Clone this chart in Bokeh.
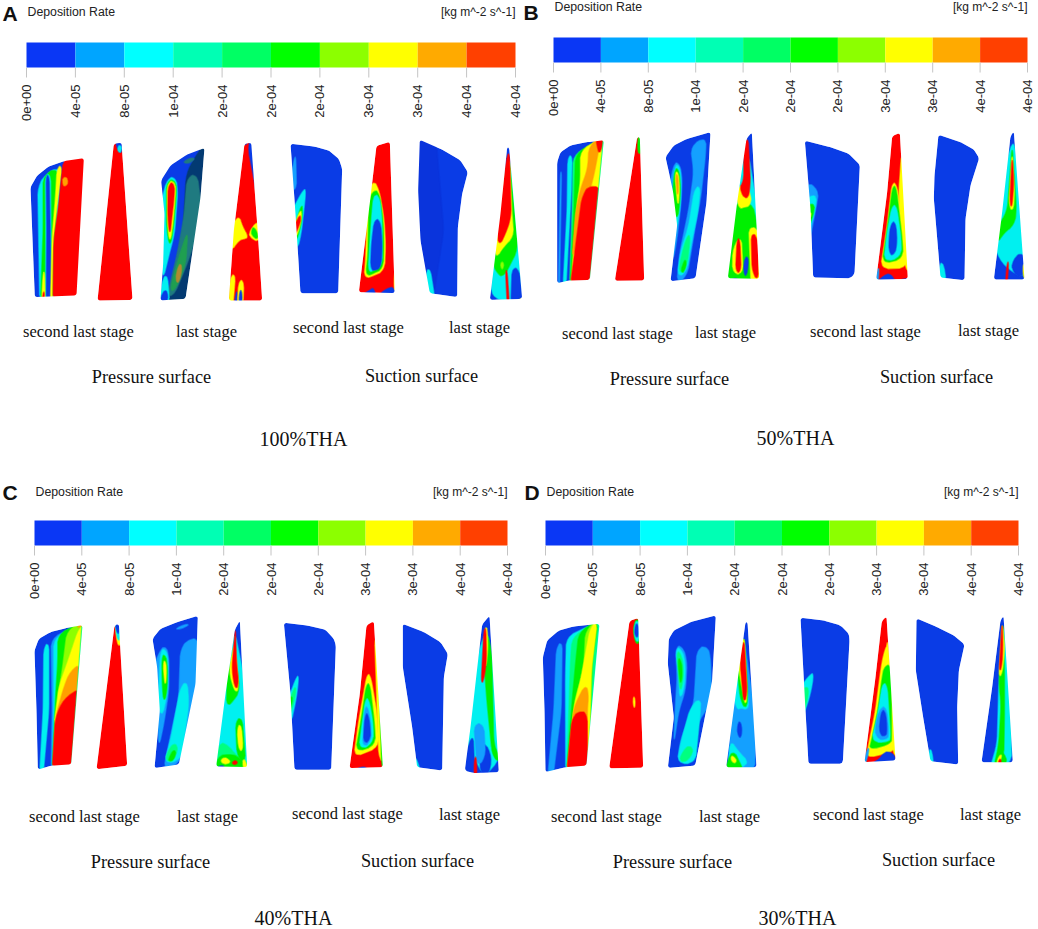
from math import hypot, pi

from bokeh.core.properties import value
from bokeh.embed import file_html
from bokeh.models import Range1d
from bokeh.plotting import figure
from bokeh.resources import INLINE

# contour levels
bar_colors = ["#0a37f5", "#00a5ff", "#00ffff", "#00ffb4", "#00ff64", "#00ff00",
              "#8cff00", "#ffff00", "#ffaa00", "#ff4000"]
tick_labels = ["0e+00", "4e-05", "8e-05", "1e-04", "2e-04", "2e-04", "2e-04", "3e-04", "3e-04", "4e-04", "4e-04"]
band = {"B": "#0a3ce6", "B2": "#0a34dc", "D": "#033a72", "K": "#1f7a80", "E": "#1f9f50", "F": "#b08a30",
        "L": "#14a0ff", "C": "#00f0f0", "T": "#00ffb4", "M": "#00ff80", "G": "#00f000", "N": "#8cff00",
        "Y": "#ffff00", "O": "#ffa000", "H": "#ff4000", "R": "#ff0000"}

# colourbars
bar_left = [26, 553, 34, 545]
bar_right = [515, 1027, 507, 1018]
bar_top = [42, 37, 520, 520]
bar_bottom = [67, 62, 545, 545]
title_y = [11, 6, 491, 491]
letter_names = ["A", "B", "C", "D"]
letter_x = [2, 523, 2, 524]
letter_y = [13, 12, 492, 492]

# text under the blades
stage_names = ["second last stage", "last stage", "second last stage", "last stage"] * 4
stage_x = [78, 206, 348, 479, 617, 725, 865, 988, 84, 207, 347, 469, 606, 729, 868, 990]
stage_y = [331, 331, 327, 327, 333, 332, 331, 330, 816, 816, 813, 814, 816, 816, 814, 814]
surface_names = ["Pressure surface", "Suction surface"] * 4
surface_x = [151, 421, 669, 936, 150, 417, 672, 938]
surface_y = [376, 375, 378, 376, 861, 860, 861, 859]
case_names = ["100%THA", "50%THA", "40%THA", "30%THA"]
case_x = [303, 795, 293, 797]
case_y = [438, 437, 917, 917]

# blade contours at 3x from a crop origin
crop_a12 = (0, 130)
crop_a34 = (270, 130)
crop_b12 = (530, 125)
crop_b34 = (790, 125)
crop_c12 = (20, 610)
crop_c34 = (270, 610)
crop_d12 = (530, 610)
crop_d34 = (780, 610)

a1_outline = [(90, 170), (110, 135), (145, 108), (190, 92), (250, 83), (228, 495), (103, 500), (97, 350)]
a1_bands = [("C", [(112, 170), (135, 130), (180, 108), (170, 300), (157, 497), (120, 497)]),
            ("G", [(128, 135), (172, 110), (165, 300), (156, 497), (122, 497), (128, 300)]),
            ("C", [(134, 135), (150, 130), (152, 350), (152, 497), (136, 497), (136, 300)]),
            ("B", [(138, 497), (152, 497), (150, 350), (146, 135), (137, 135), (139, 300)]),
            ("Y", [(170, 110), (185, 105), (170, 220), (158, 330), (155, 497), (150, 497), (155, 320), (165, 200)]),
            ("R", [(185, 100), (250, 83), (230, 497), (157, 497), (160, 330), (175, 220)]),
            ("O", [(190, 135), (205, 150), (195, 170), (185, 160)]),
            ("Y", [(125, 497), (135, 497), (132, 420), (128, 430)]),
            ("R", [(126, 497), (133, 497), (131, 470)])]
a2_outline = [(340, 40), (363, 36), (396, 508), (291, 510)]
a2_bands = [("B", [(342, 40), (363, 37), (365, 78), (355, 70)]),
            ("C", [(350, 50), (360, 60), (362, 80), (355, 68)]),
            ("B", [(330, 505), (396, 506), (396, 511), (320, 511)])]
a3_outline = [(482, 150), (510, 105), (560, 72), (612, 52), (600, 200), (575, 370), (555, 505), (480, 510), (488, 400), (492, 250)]
a3_bands = [("B", [(482, 150), (510, 105), (560, 72), (605, 52), (575, 90), (555, 130), (545, 300), (510, 470), (500, 510), (480, 510), (488, 400)]),
            ("K", [(560, 140), (590, 130), (588, 260), (560, 400), (520, 495), (500, 495), (530, 370), (550, 260)]),
            ("E", [(538, 370), (562, 300), (556, 400), (522, 482), (508, 478)]),
            ("F", [(530, 410), (545, 395), (540, 450), (525, 460)]),
            ("K", [(550, 90), (585, 78), (575, 95), (552, 100)]),
            ("C", [(500, 145), (525, 138), (532, 180), (522, 310), (505, 375), (492, 430), (492, 250)]),
            ("G", [(498, 152), (526, 146), (528, 190), (518, 300), (508, 352), (498, 290)]),
            ("Y", [(500, 156), (524, 150), (525, 190), (516, 290), (508, 340), (501, 280)]),
            ("R", [(503, 160), (522, 155), (521, 200), (513, 270), (508, 318), (502, 260)]),
            ("C", [(490, 430), (500, 430), (510, 505), (482, 505)]),
            ("B", [(484, 480), (500, 470), (505, 505), (482, 508)])]
a4_outline = [(732, 40), (752, 36), (770, 280), (785, 510), (685, 510), (700, 300)]
a4_bands = [("B", [(752, 36), (770, 280), (771, 320), (762, 200), (742, 50)]),
            ("B", [(732, 40), (742, 40), (735, 70)]),
            ("Y", [(700, 300), (715, 250), (725, 290), (745, 320), (730, 325), (712, 330), (700, 350)]),
            ("Y", [(745, 300), (765, 270), (770, 320), (750, 325)]),
            ("G", [(752, 300), (762, 285), (766, 315), (755, 318)]),
            ("Y", [(695, 420), (705, 430), (700, 510), (688, 510)]),
            ("B", [(703, 510), (712, 510), (710, 470)]),
            ("Y", [(715, 450), (730, 450), (728, 510), (712, 510)]),
            ("B", [(717, 480), (725, 480), (725, 508), (717, 508)])]
a5_outline = [(60, 40), (130, 48), (175, 60), (205, 85), (215, 115), (203, 488), (90, 488), (75, 250)]
a5_bands = [("L", [(72, 80), (76, 80), (78, 180), (74, 180)]),
            ("C", [(100, 175), (106, 180), (100, 240), (92, 310), (86, 345), (78, 300), (75, 240)]),
            ("G", [(92, 225), (97, 230), (92, 285), (82, 325), (78, 290)]),
            ("Y", [(88, 240), (94, 245), (90, 285), (81, 315), (78, 285)]),
            ("R", [(85, 255), (92, 258), (87, 285), (80, 303), (78, 285)])]
a6_outline = [(318, 46), (358, 34), (372, 470), (372, 488), (265, 485), (300, 200)]
a6_bands = [("B", [(265, 485), (300, 478), (310, 470), (318, 485), (350, 470), (372, 455), (372, 490)]),
            ("Y", [(310, 165), (325, 175), (340, 260), (345, 340), (342, 420), (310, 435), (280, 445), (285, 400), (300, 220)]),
            ("G", [(310, 175), (327, 190), (338, 270), (340, 340), (338, 415), (310, 428), (285, 438), (292, 380), (303, 230)]),
            ("C", [(310, 190), (328, 200), (335, 280), (335, 405), (310, 420), (293, 425), (298, 340), (305, 240)]),
            ("B", [(312, 265), (330, 270), (335, 340), (332, 410), (315, 420), (300, 418), (303, 340)]),
            ("K", [(335, 42), (358, 34), (358, 42)]),
            ("Y", [(365, 300), (368, 300), (372, 470), (366, 450)])]
a7_outline = [(448, 28), (520, 60), (570, 90), (592, 125), (575, 190), (562, 290), (560, 500), (478, 488), (450, 330), (443, 180)]
a7_bands = [("B2", [(445, 30), (500, 55), (520, 300), (490, 490), (478, 488), (445, 170)]),
            ("C", [(470, 410), (478, 410), (495, 488), (478, 488)])]
a8_outline = [(710, 50), (716, 52), (755, 505), (658, 508), (690, 250)]
a8_bands = [("C", [(700, 180), (718, 100), (740, 340), (750, 470), (720, 500), (665, 480), (680, 330)]),
            ("G", [(705, 150), (716, 110), (735, 340), (720, 400), (700, 440), (680, 430), (672, 380), (685, 300)]),
            ("Y", [(708, 120), (716, 100), (725, 260), (730, 320), (700, 345), (680, 370), (685, 300)]),
            ("R", [(708, 100), (716, 80), (722, 260), (705, 310), (685, 350), (692, 290)]),
            ("N", [(690, 395), (700, 395), (698, 415), (692, 415)]),
            ("B", [(660, 505), (666, 470), (685, 505)]),
            ("B", [(725, 410), (742, 400), (750, 480), (730, 505), (720, 505)]),
            ("R", [(705, 420), (710, 420), (716, 508), (710, 508)]),
            ("Y", [(725, 500), (750, 485), (755, 490), (735, 503)])]

b1_outline = [(80, 110), (90, 80), (120, 60), (170, 50), (220, 44), (178, 463), (115, 465), (80, 473)]
b1_bands = [("L", [(90, 140), (93, 140), (90, 470), (87, 470)]),
            ("C", [(112, 95), (125, 88), (122, 200), (108, 465), (100, 465), (110, 250)]),
            ("M", [(128, 90), (215, 48), (180, 460), (118, 465), (125, 250)]),
            ("G", [(135, 85), (212, 50), (180, 460), (120, 465), (130, 260)]),
            ("Y", [(150, 75), (212, 50), (180, 460), (122, 465), (140, 230), (150, 170)]),
            ("O", [(125, 400), (190, 150), (205, 50), (175, 60), (172, 130), (150, 190), (135, 260)]),
            ("R", [(120, 465), (178, 463), (200, 200), (180, 175), (155, 210)]),
            ("R", [(190, 52), (214, 48), (208, 90), (200, 65)]),
            ("M", [(212, 45), (220, 44), (178, 463), (174, 463)])]
b2_outline = [(320, 35), (328, 35), (341, 465), (253, 466)]
b2_bands = [("G", [(321, 50), (329, 50), (332, 95), (322, 90)]),
            ("B", [(320, 35), (328, 35), (329, 50), (321, 50)]),
            ("B", [(300, 462), (330, 461), (330, 466), (300, 466)])]
b3_outline = [(405, 95), (430, 60), (470, 40), (540, 20), (528, 230), (495, 458), (420, 467), (440, 300), (428, 200), (413, 130)]
b3_bands = [("L", [(480, 62), (527, 33), (525, 90), (510, 220), (495, 300), (470, 450), (440, 458), (448, 380), (475, 250), (490, 140)]),
            ("C", [(492, 190), (510, 180), (502, 260), (485, 340), (468, 440), (440, 455), (450, 380), (475, 300)]),
            ("M", [(470, 330), (480, 330), (470, 420), (445, 450), (450, 400)]),
            ("G", [(458, 410), (468, 400), (465, 435), (450, 445)]),
            ("L", [(430, 115), (445, 110), (455, 150), (452, 230), (442, 320), (430, 390), (430, 300), (432, 200)]),
            ("C", [(432, 125), (445, 115), (452, 160), (450, 240), (440, 300), (435, 250), (430, 170)]),
            ("G", [(432, 135), (443, 125), (450, 170), (448, 235), (443, 270), (437, 220)]),
            ("Y", [(433, 145), (442, 135), (447, 175), (445, 225), (442, 240), (438, 200)]),
            ("O", [(436, 150), (441, 145), (444, 180), (442, 215), (439, 190)])]
b4_outline = [(648, 40), (664, 20), (686, 460), (592, 458), (620, 230)]
b4_bands = [("C", [(640, 120), (655, 90), (672, 270), (685, 460), (592, 460), (618, 240)]),
            ("G", [(618, 240), (665, 230), (680, 320), (686, 460), (592, 460)]),
            ("Y", [(625, 215), (640, 170), (660, 200), (662, 240), (640, 245), (625, 250)]),
            ("R", [(640, 80), (652, 50), (660, 180), (650, 230), (630, 205), (640, 170)]),
            ("Y", [(655, 300), (678, 300), (685, 460), (660, 460)]),
            ("R", [(662, 320), (675, 320), (680, 450), (665, 440)]),
            ("Y", [(612, 350), (632, 330), (638, 445), (606, 445)]),
            ("R", [(620, 340), (628, 340), (632, 440), (615, 440)]),
            ("B", [(640, 400), (655, 390), (650, 450), (640, 450)]),
            ("B", [(592, 458), (620, 450), (625, 462), (592, 462)])]
b5_outline = [(43, 46), (120, 65), (175, 85), (208, 118), (192, 445), (180, 458), (68, 456), (60, 250)]
b5_bands = [("L", [(58, 180), (85, 190), (78, 240), (68, 330), (60, 310)]),
            ("C", [(60, 230), (78, 200), (75, 250), (65, 315), (58, 290)]),
            ("G", [(60, 250), (72, 225), (70, 270), (63, 300)]),
            ("Y", [(62, 265), (68, 255), (65, 285)])]
b6_outline = [(305, 32), (328, 22), (352, 460), (257, 462), (290, 200)]
b6_bands = [("Y", [(330, 100), (335, 250), (352, 430), (340, 410), (325, 200)]),
            ("Y", [(305, 172), (318, 175), (340, 340), (345, 410), (270, 430), (290, 300)]),
            ("G", [(307, 180), (317, 185), (335, 340), (338, 400), (275, 415), (290, 310)]),
            ("C", [(305, 240), (318, 240), (332, 340), (332, 395), (280, 410), (290, 320)]),
            ("B", [(302, 290), (316, 290), (320, 360), (310, 390), (296, 385), (295, 340)]),
            ("B", [(257, 462), (280, 447), (305, 445), (312, 455), (350, 435), (352, 462)]),
            ("K", [(310, 30), (328, 22), (330, 35)]),
            ("L", [(257, 462), (262, 430), (270, 400), (266, 460)])]
b7_outline = [(444, 28), (510, 50), (550, 72), (566, 98), (540, 180), (525, 280), (522, 464), (450, 456), (430, 220), (432, 150)]
b7_bands = [("C", [(450, 400), (458, 410), (470, 456), (452, 456)])]
b8_outline = [(660, 32), (670, 18), (702, 462), (610, 462), (635, 260)]
b8_bands = [("C", [(650, 120), (668, 60), (680, 250), (690, 350), (700, 440), (665, 440), (625, 400), (620, 340)]),
            ("G", [(650, 260), (665, 60), (678, 250), (672, 300), (640, 320), (625, 340), (635, 280)]),
            ("Y", [(655, 240), (665, 80), (672, 200), (668, 260)]),
            ("R", [(658, 230), (665, 90), (670, 170), (664, 250)]),
            ("B", [(665, 400), (695, 360), (698, 440), (665, 445)]),
            ("Y", [(693, 400), (697, 400), (701, 440), (695, 440)]),
            ("R", [(650, 410), (655, 410), (650, 462), (645, 462)]),
            ("C", [(660, 460), (700, 445), (702, 455), (665, 462)])]

c1_outline = [(42, 120), (55, 85), (90, 65), (140, 52), (186, 44), (152, 462), (95, 465), (52, 477), (48, 300)]
c1_bands = [("C", [(70, 110), (85, 95), (85, 300), (70, 472), (60, 472), (68, 300)]),
            ("L", [(92, 85), (185, 46), (153, 462), (92, 465), (95, 300)]),
            ("C", [(100, 85), (185, 46), (153, 462), (95, 465), (100, 300)]),
            ("G", [(112, 72), (185, 46), (153, 462), (95, 465), (105, 260), (112, 150)]),
            ("N", [(140, 60), (185, 46), (170, 200), (110, 270), (125, 180)]),
            ("Y", [(150, 130), (175, 55), (182, 60), (165, 280), (100, 350), (115, 230)]),
            ("O", [(130, 230), (150, 180), (170, 170), (155, 462), (97, 465), (105, 320)]),
            ("R", [(105, 320), (130, 265), (165, 230), (152, 462), (95, 465)]),
            ("M", [(178, 46), (186, 44), (152, 462), (148, 462)]),
            ("O", [(165, 55), (180, 48), (178, 62)])]
c2_outline = [(282, 45), (295, 40), (320, 466), (228, 476)]
c2_bands = [("Y", [(283, 55), (295, 42), (300, 115), (292, 110)]),
            ("C", [(283, 52), (295, 42), (298, 105), (290, 90)]),
            ("B", [(283, 48), (295, 42), (296, 85), (289, 70)])]
c3_outline = [(396, 85), (420, 55), (470, 35), (532, 16), (525, 220), (475, 462), (402, 473), (418, 300), (410, 170)]
c3_bands = [("L", [(468, 52), (505, 38), (500, 48), (470, 58)]),
            ("L", [(480, 115), (505, 85), (525, 100), (520, 230), (500, 340), (475, 440), (430, 462), (445, 400), (475, 260)]),
            ("C", [(480, 230), (500, 210), (505, 280), (480, 430), (430, 460), (450, 390)]),
            ("M", [(440, 420), (470, 390), (470, 440), (435, 460)]),
            ("G", [(445, 440), (465, 410), (465, 445), (445, 455)]),
            ("L", [(418, 120), (435, 105), (445, 135), (445, 240), (430, 340), (415, 410), (418, 300), (415, 180)]),
            ("C", [(420, 125), (432, 112), (443, 140), (442, 240), (425, 320), (420, 270), (418, 170)]),
            ("G", [(424, 140), (433, 130), (441, 160), (440, 240), (430, 280), (425, 220)]),
            ("Y", [(428, 155), (435, 150), (438, 180), (435, 230), (431, 200)])]
c4_outline = [(643, 58), (658, 30), (680, 470), (587, 468), (615, 250)]
c4_bands = [("C", [(628, 170), (642, 80), (660, 200), (670, 340), (677, 460), (590, 465), (605, 330)]),
            ("G", [(625, 215), (642, 120), (658, 240), (640, 270), (618, 290)]),
            ("Y", [(628, 200), (642, 110), (655, 230), (645, 250)]),
            ("R", [(634, 180), (644, 65), (648, 160), (655, 220), (645, 240)]),
            ("M", [(600, 380), (620, 400), (650, 440), (677, 430), (677, 465), (590, 465)]),
            ("G", [(595, 420), (625, 430), (660, 440), (677, 460), (590, 460)]),
            ("G", [(645, 330), (665, 320), (672, 440), (650, 440)]),
            ("Y", [(650, 350), (662, 340), (668, 420), (655, 420)]),
            ("Y", [(605, 440), (625, 445), (630, 460), (600, 460)]),
            ("R", [(636, 452), (650, 450), (650, 462), (636, 462)]),
            ("B", [(587, 460), (610, 458), (615, 468), (587, 468)]),
            ("Y", [(665, 440), (675, 440), (678, 468), (668, 468)])]
c5_outline = [(40, 37), (110, 45), (165, 58), (190, 85), (196, 105), (182, 478), (72, 478), (60, 250)]
c5_bands = [("C", [(78, 200), (85, 195), (78, 260), (68, 325), (58, 270)]),
            ("M", [(68, 240), (78, 225), (72, 270), (63, 310), (58, 280)]),
            ("G", [(60, 260), (70, 250), (65, 295)])]
c6_outline = [(288, 45), (310, 32), (337, 470), (237, 473), (268, 250)]
c6_bands = [("Y", [(310, 100), (318, 110), (335, 440), (325, 440)]),
            ("G", [(316, 200), (328, 300), (335, 450), (330, 450)]),
            ("Y", [(290, 190), (300, 195), (318, 300), (325, 410), (250, 440), (265, 330)]),
            ("G", [(288, 220), (298, 220), (312, 340), (315, 405), (255, 425), (270, 340)]),
            ("C", [(285, 265), (295, 265), (308, 340), (308, 400), (265, 418), (275, 340)]),
            ("L", [(283, 290), (293, 290), (302, 350), (302, 395), (275, 410), (280, 350)]),
            ("B", [(285, 310), (293, 310), (300, 360), (298, 390), (280, 400), (280, 360)]),
            ("B", [(237, 473), (285, 462), (292, 470), (330, 455), (337, 470), (337, 475), (237, 475)]),
            ("K", [(295, 44), (310, 32), (312, 45)])]
c7_outline = [(397, 40), (460, 65), (510, 95), (532, 130), (520, 200), (515, 480), (440, 470), (425, 350), (397, 170)]
c7_bands = [("C", [(435, 425), (442, 430), (452, 470), (440, 470)]),
            ("C", [(420, 48), (480, 75), (480, 78), (420, 52)])]
c8_outline = [(635, 42), (657, 16), (685, 485), (610, 488), (583, 480), (600, 350)]
c8_bands = [("C", [(630, 120), (650, 60), (665, 220), (680, 430), (640, 480), (610, 440), (595, 380), (610, 310)]),
            ("G", [(640, 150), (648, 60), (660, 140), (670, 400), (682, 440), (665, 430), (650, 280)]),
            ("Y", [(642, 60), (650, 45), (652, 120), (645, 180)]),
            ("R", [(632, 220), (640, 60), (646, 50), (648, 150), (640, 210)]),
            ("B", [(595, 400), (608, 370), (612, 470), (590, 475)]),
            ("B", [(640, 390), (665, 440), (650, 482), (625, 480)]),
            ("L", [(610, 340), (640, 340), (645, 440), (620, 470)]),
            ("R", [(612, 440), (618, 440), (620, 485), (612, 485)]),
            ("G", [(665, 400), (680, 420), (680, 440), (665, 435)])]

d1_outline = [(37, 140), (50, 90), (85, 60), (130, 48), (207, 40), (168, 465), (105, 470), (45, 485), (42, 300)]
d1_bands = [("L", [(78, 110), (95, 92), (92, 300), (70, 478), (55, 480), (70, 300)]),
            ("C", [(108, 80), (207, 42), (168, 465), (105, 470), (105, 200)]),
            ("M", [(125, 80), (200, 45), (168, 465), (108, 470), (115, 300), (120, 150)]),
            ("G", [(145, 65), (195, 45), (185, 150), (168, 465), (108, 470), (125, 270), (135, 160)]),
            ("N", [(165, 60), (190, 48), (185, 150), (168, 465), (108, 470), (135, 260), (160, 180)]),
            ("Y", [(180, 50), (192, 48), (182, 180), (168, 465), (110, 470), (130, 290), (150, 210)]),
            ("O", [(130, 290), (165, 220), (175, 250), (170, 300), (168, 465), (108, 470)]),
            ("R", [(125, 320), (150, 300), (170, 310), (165, 465), (108, 470)]),
            ("C", [(200, 42), (207, 40), (168, 465), (163, 465)])]
d2_outline = [(297, 32), (323, 22), (338, 472), (236, 473)]
d2_bands = [("B", [(297, 32), (323, 22), (324, 32), (298, 38)]),
            ("G", [(306, 45), (323, 35), (326, 108), (316, 106)]),
            ("C", [(308, 48), (322, 40), (325, 100), (317, 100)]),
            ("B", [(311, 52), (320, 50), (323, 90), (316, 85)]),
            ("Y", [(308, 260), (313, 260), (314, 290), (309, 290)])]
d3_outline = [(415, 85), (430, 60), (480, 35), (556, 15), (545, 210), (494, 465), (412, 472), (430, 320), (412, 160)]
d3_bands = [("L", [(500, 115), (530, 105), (540, 140), (530, 260), (500, 340), (480, 430), (440, 460), (450, 390), (490, 280)]),
            ("C", [(480, 290), (510, 260), (510, 300), (492, 440), (440, 460), (450, 400)]),
            ("M", [(455, 420), (485, 400), (487, 440), (445, 462)]),
            ("L", [(435, 110), (455, 105), (470, 150), (465, 240), (445, 300), (430, 400), (435, 280), (440, 200)]),
            ("C", [(435, 115), (452, 112), (465, 155), (462, 230), (448, 270), (445, 190)]),
            ("M", [(438, 125), (450, 125), (460, 170), (455, 230), (448, 240)]),
            ("G", [(442, 145), (450, 145), (456, 180), (452, 220), (448, 210)])]
d4_outline = [(645, 35), (651, 35), (678, 470), (587, 470), (620, 220)]
d4_bands = [("L", [(625, 200), (640, 100), (660, 280), (670, 400), (670, 465), (595, 465), (602, 380)]),
            ("C", [(620, 240), (640, 100), (652, 260), (655, 300), (630, 290), (620, 300)]),
            ("G", [(625, 200), (640, 90), (652, 250), (648, 300), (630, 270)]),
            ("Y", [(627, 190), (640, 90), (650, 250), (645, 290)]),
            ("R", [(630, 170), (640, 100), (650, 250), (640, 280)]),
            ("C", [(605, 370), (620, 420), (660, 460), (595, 465)]),
            ("G", [(597, 425), (610, 420), (625, 450), (640, 465), (590, 465)]),
            ("Y", [(600, 435), (612, 440), (620, 455), (605, 458)]),
            ("B", [(620, 340), (632, 330), (635, 380), (622, 380)])]
d5_outline = [(60, 22), (130, 30), (180, 45), (205, 70), (207, 90), (187, 455), (180, 460), (84, 460), (75, 300)]
d5_bands = [("C", [(90, 190), (100, 190), (90, 250), (78, 305), (72, 260), (75, 230)]),
            ("M", [(75, 240), (85, 220), (82, 270), (78, 295)])]
d6_outline = [(304, 32), (318, 18), (345, 450), (252, 455), (285, 200)]
d6_bands = [("Y", [(318, 100), (345, 430), (335, 415), (315, 170)]),
            ("Y", [(312, 120), (319, 120), (335, 380), (338, 405), (262, 425), (266, 395), (285, 300), (302, 170)]),
            ("G", [(312, 165), (325, 180), (333, 380), (332, 400), (266, 418), (272, 395), (292, 300), (305, 200)]),
            ("C", [(307, 215), (320, 225), (330, 380), (325, 395), (272, 395), (290, 320)]),
            ("L", [(300, 290), (318, 290), (325, 370), (320, 388), (285, 385), (285, 340)]),
            ("B", [(302, 300), (315, 300), (320, 360), (315, 380), (295, 370)]),
            ("B", [(252, 455), (300, 445), (305, 430), (330, 420), (345, 430), (345, 452)]),
            ("K", [(304, 32), (318, 18), (319, 30)]),
            ("L", [(252, 452), (262, 400), (268, 410), (260, 440)])]
d7_outline = [(408, 24), (470, 50), (520, 75), (552, 102), (535, 180), (530, 290), (533, 462), (450, 452), (428, 320), (406, 180)]
d7_bands = [("C", [(447, 410), (452, 410), (462, 452), (450, 452)])]
d8_outline = [(660, 30), (669, 16), (697, 455), (603, 455), (635, 230)]
d8_bands = [("C", [(655, 220), (668, 60), (680, 280), (690, 440), (630, 458), (650, 400)]),
            ("G", [(655, 220), (666, 50), (672, 180), (672, 300), (670, 440), (640, 458), (655, 400), (662, 280)]),
            ("Y", [(655, 200), (664, 50), (670, 130), (665, 190)]),
            ("R", [(656, 185), (664, 50), (667, 110), (664, 170)]),
            ("G", [(640, 455), (655, 425), (672, 425), (680, 450)]),
            ("Y", [(645, 450), (660, 425), (665, 445)]),
            ("R", [(650, 452), (660, 435), (662, 450)])]

blades = [
    (crop_a12, a1_outline, "B", a1_bands), (crop_a12, a2_outline, "R", a2_bands),
    (crop_a12, a3_outline, "D", a3_bands), (crop_a12, a4_outline, "R", a4_bands),
    (crop_a34, a5_outline, "B", a5_bands), (crop_a34, a6_outline, "R", a6_bands),
    (crop_a34, a7_outline, "B", a7_bands), (crop_a34, a8_outline, "B", a8_bands),
    (crop_b12, b1_outline, "B", b1_bands), (crop_b12, b2_outline, "R", b2_bands),
    (crop_b12, b3_outline, "B", b3_bands), (crop_b12, b4_outline, "B", b4_bands),
    (crop_b34, b5_outline, "B", b5_bands), (crop_b34, b6_outline, "R", b6_bands),
    (crop_b34, b7_outline, "B", b7_bands), (crop_b34, b8_outline, "B", b8_bands),
    (crop_c12, c1_outline, "B", c1_bands), (crop_c12, c2_outline, "R", c2_bands),
    (crop_c12, c3_outline, "B", c3_bands), (crop_c12, c4_outline, "B", c4_bands),
    (crop_c34, c5_outline, "B", c5_bands), (crop_c34, c6_outline, "R", c6_bands),
    (crop_c34, c7_outline, "B", c7_bands), (crop_c34, c8_outline, "B", c8_bands),
    (crop_d12, d1_outline, "B", d1_bands), (crop_d12, d2_outline, "R", d2_bands),
    (crop_d12, d3_outline, "B", d3_bands), (crop_d12, d4_outline, "B", d4_bands),
    (crop_d34, d5_outline, "B", d5_bands), (crop_d34, d6_outline, "R", d6_bands),
    (crop_d34, d7_outline, "B", d7_bands), (crop_d34, d8_outline, "B", d8_bands),
]


def edge_distance(point, outline):
    best = 1e9
    for i in range(len(outline)):
        x0, y0 = outline[i - 1]
        x1, y1 = outline[i]
        length = (x1 - x0) ** 2 + (y1 - y0) ** 2
        t = ((point[0] - x0) * (x1 - x0) + (point[1] - y0) * (y1 - y0)) / length
        t = max(0, min(1, t))
        best = min(best, hypot(point[0] - x0 - t * (x1 - x0), point[1] - y0 - t * (y1 - y0)))
    return best


def push_out(points, outline):
    # a band corner that sits on the blade edge goes past it, the mask trims it
    cx = sum(x for x, y in outline) / len(outline)
    cy = sum(y for x, y in outline) / len(outline)
    moved = []
    for x, y in points:
        if edge_distance((x, y), outline) < 7:
            d = hypot(x - cx, y - cy)
            x, y = x + (x - cx) / d * 18, y + (y - cy) / d * 18
        moved.append((x, y))
    return moved


def ring(crop, points, limit):
    xs = [crop[0] + x / 3 for x, y in points]
    ys = [crop[1] + y / 3 for x, y in points]
    # cut the corners twice so the contours do not look like straight polygons
    for _ in range(2):
        new_xs, new_ys = [], []
        for i in range(len(xs)):
            x0, y0 = xs[i - 1], ys[i - 1]
            x1, y1 = xs[i], ys[i]
            x2, y2 = xs[(i + 1) % len(xs)], ys[(i + 1) % len(xs)]
            d0 = hypot(x0 - x1, y0 - y1)
            d2 = hypot(x2 - x1, y2 - y1)
            a = min(limit, d0 / 3) / d0
            b = min(limit, d2 / 3) / d2
            new_xs += [x1 + (x0 - x1) * a, x1 + (x2 - x1) * b]
            new_ys += [y1 + (y0 - y1) * a, y1 + (y2 - y1) * b]
        xs, ys = new_xs, new_ys
        limit = limit / 2
    return xs, ys


# the page template has no body margin, so the figure can take the whole window
p = figure(width=1038, height=929, x_range=Range1d(0, 1038), y_range=Range1d(929, 0),
           x_axis_location=None, y_axis_location=None, toolbar_location=None,
           output_backend="svg", min_border=0)
p.grid.visible = False
p.outline_line_color = None

# blade fills, painted low level first, then a white mask with the blade as a
# hole so the bands stop at the blade edge
fill_xs, fill_ys, fill_colors = [], [], []
mask_xs, mask_ys = [], []
for crop, outline, base, bands in blades:
    xs, ys = ring(crop, outline, 1.5)
    fill_xs.append([[xs]])
    fill_ys.append([[ys]])
    fill_colors.append(band[base])
    for name, points in bands:
        band_xs, band_ys = ring(crop, push_out(points, outline), 5)
        fill_xs.append([[band_xs]])
        fill_ys.append([[band_ys]])
        fill_colors.append(band[name])
    left, right, top, bottom = min(xs) - 9, max(xs) + 9, min(ys) - 9, max(ys) + 9
    mask_xs.append([[[left, right, right, left], xs]])
    mask_ys.append([[[top, top, bottom, bottom], ys]])

p.multi_polygons(xs=fill_xs, ys=fill_ys, fill_color=fill_colors, line_color=fill_colors, line_width=1.6, line_alpha=0.5)
p.multi_polygons(xs=mask_xs, ys=mask_ys, fill_color="white", line_color=None)

# colourbars
for i in range(4):
    step = (bar_right[i] - bar_left[i]) / len(bar_colors)
    edges = [bar_left[i] + step * k for k in range(len(tick_labels))]
    p.quad(left=edges[:-1], right=edges[1:], top=bar_top[i], bottom=bar_bottom[i],
           fill_color=bar_colors, line_color=None)
    p.segment(x0=edges, x1=edges, y0=bar_bottom[i], y1=bar_bottom[i] + 10, line_color="#c4c4c4", line_width=1)
    p.text(x=edges, y=bar_bottom[i] + 17, text=tick_labels, angle=pi / 2,
           text_font=value("Liberation Sans"), text_font_size="13px", text_color="#222222",
           text_align="right", text_baseline="middle")
    p.text(x=[bar_left[i] + 1], y=[title_y[i]], text=["Deposition Rate"],
           text_font=value("Liberation Sans"), text_font_size="12.3px", text_color="#222222",
           text_align="left", text_baseline="middle")
    p.text(x=[bar_right[i]], y=[title_y[i]], text=["[kg m^-2 s^-1]"],
           text_font=value("Liberation Sans"), text_font_size="12px", text_color="#222222",
           text_align="right", text_baseline="middle")

p.text(x=letter_x, y=letter_y, text=letter_names, text_font=value("Liberation Sans"), text_font_style="bold",
       text_font_size="21px", text_color="#111111", text_align="left", text_baseline="middle")
p.text(x=stage_x, y=stage_y, text=stage_names, text_font=value("Liberation Serif"), text_font_size="16.5px",
       text_color="#111111", text_align="center", text_baseline="middle")
p.text(x=surface_x, y=surface_y, text=surface_names, text_font=value("Liberation Serif"), text_font_size="18.3px",
       text_color="#111111", text_align="center", text_baseline="middle")
p.text(x=case_x, y=case_y, text=case_names, text_font=value("Liberation Serif"), text_font_size="20px",
       text_color="#111111", text_align="center", text_baseline="middle")

open("out.html", "w").write(file_html(p, INLINE))
